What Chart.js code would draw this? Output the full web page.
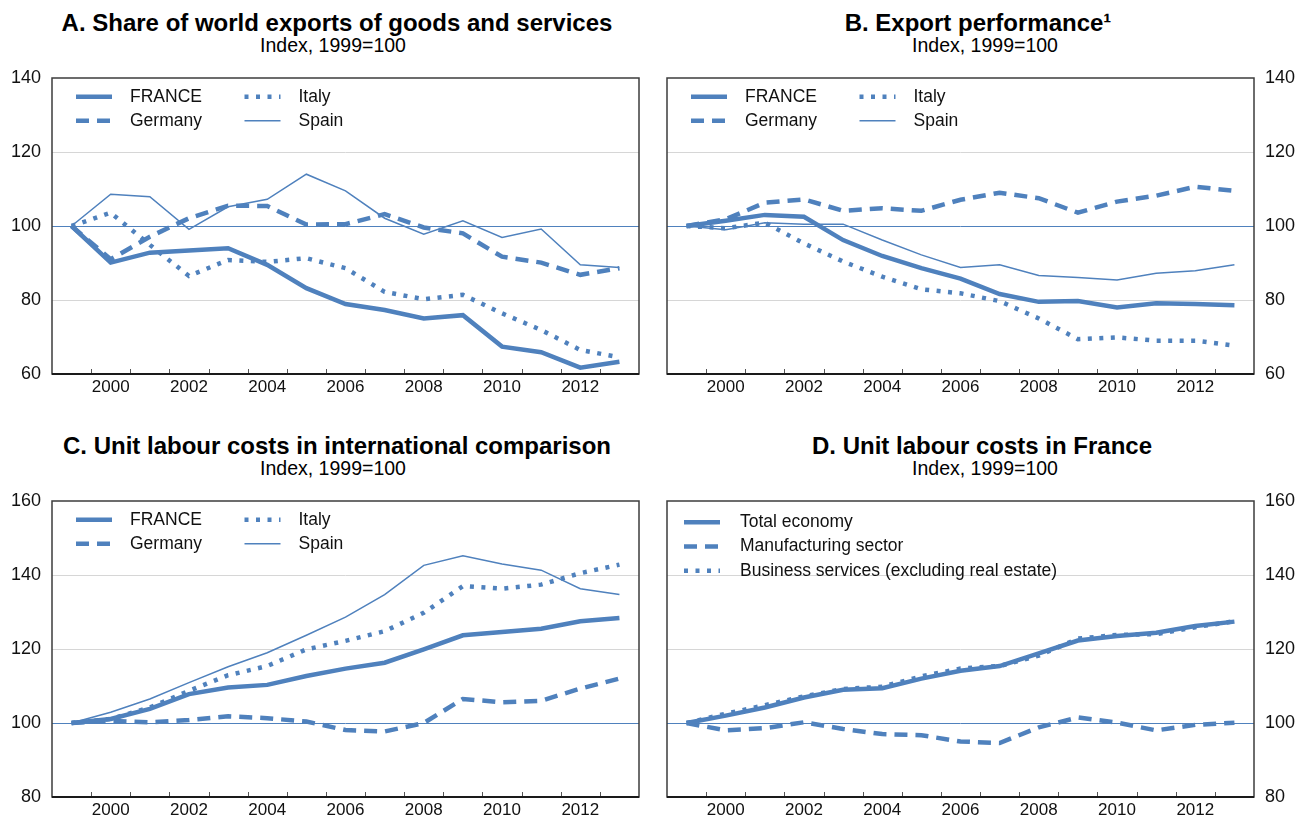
<!DOCTYPE html>
<html>
<head>
<meta charset="utf-8">
<title>France export and labour cost indicators</title>
<script src="https://cdn.jsdelivr.net/npm/chart.js@4.4.1/dist/chart.umd.min.js"></script>
<style>
    html, body { margin: 0; padding: 0; background: #fff; overflow: hidden; }
    #page { position: relative; width: 1309px; height: 818px; font-family: "Liberation Sans", Arial, sans-serif; color: #000; }
    .panel-title { position: absolute; width: 640px; text-align: center; font-weight: bold; font-size: 24px; line-height: 26px; white-space: nowrap; }
    .panel-sub { position: absolute; width: 640px; text-align: center; font-size: 19.5px; line-height: 22px; white-space: nowrap; }
    canvas { position: absolute; }
</style>
</head>
<body>
<div id="page">
    <div class="panel-title" style="left:17px; top:10px;">A. Share of world exports of goods and services</div>
    <div class="panel-sub" style="left:13px; top:34px;">Index, 1999=100</div>
    <div class="panel-title" style="left:658px; top:10px;">B. Export performance¹</div>
    <div class="panel-sub" style="left:665px; top:34px;">Index, 1999=100</div>
    <div class="panel-title" style="left:17px; top:433px;">C. Unit labour costs in international comparison</div>
    <div class="panel-sub" style="left:13px; top:457px;">Index, 1999=100</div>
    <div class="panel-title" style="left:662px; top:433px;">D. Unit labour costs in France</div>
    <div class="panel-sub" style="left:665px; top:457px;">Index, 1999=100</div>

    <canvas id="chart-a" width="655" height="335" style="left:0; top:60px;"></canvas>
    <canvas id="chart-b" width="654" height="335" style="left:655px; top:60px;"></canvas>
    <canvas id="chart-c" width="655" height="335" style="left:0; top:483px;"></canvas>
    <canvas id="chart-d" width="654" height="335" style="left:655px; top:483px;"></canvas>
</div>

<script>
// Index values, 1999 = 100

const YEARS = [1999, 2000, 2001, 2002, 2003, 2004, 2005, 2006, 2007, 2008, 2009, 2010, 2011, 2012, 2013];

// A. Share of world exports of goods and services
const shareFrance  = [100, 90.1, 92.8, 93.4, 94.0, 89.5, 83.2, 78.9, 77.3, 75.0, 75.9, 67.4, 65.9, 61.7, 63.3];
const shareGermany = [100, 91.0, 97.1, 102.1, 105.5, 105.4, 100.4, 100.5, 103.2, 99.6, 98.0, 91.7, 90.1, 86.8, 88.6];
const shareItaly   = [100, 103.6, 94.9, 86.5, 90.8, 90.3, 91.3, 88.6, 82.2, 80.2, 81.4, 76.4, 71.9, 66.5, 64.5];
const shareSpain   = [100, 108.6, 107.9, 99.1, 105.2, 107.2, 114.0, 109.5, 102.1, 97.8, 101.4, 96.9, 99.2, 89.5, 88.8];

// B. Export performance
const perfFrance  = [100, 101.4, 103.0, 102.5, 96.2, 91.9, 88.6, 85.8, 81.6, 79.5, 79.7, 78.0, 79.1, 78.9, 78.6];
const perfGermany = [100, 101.8, 106.3, 107.2, 104.1, 104.8, 104.1, 107.1, 109.0, 107.5, 103.6, 106.6, 108.2, 110.6, 109.5];
const perfItaly   = [100, 99.4, 100.9, 95.3, 90.4, 86.3, 82.9, 81.8, 79.7, 75.0, 69.4, 69.9, 69.0, 69.0, 67.7];
const perfSpain   = [100, 99.0, 100.9, 100.5, 100.5, 96.2, 92.2, 88.8, 89.5, 86.6, 86.1, 85.4, 87.2, 87.9, 89.5];

// C. Unit labour costs in international comparison
const ulcFrance  = [100, 101.1, 103.8, 107.8, 109.6, 110.3, 112.7, 114.7, 116.3, 119.9, 123.7, 124.6, 125.5, 127.5, 128.4];
const ulcGermany = [100, 100.6, 100.2, 100.8, 101.8, 101.3, 100.4, 98.1, 97.7, 100.0, 106.5, 105.6, 106.0, 109.3, 112.0];
const ulcItaly   = [100, 101.1, 104.2, 108.7, 112.9, 115.4, 119.9, 122.2, 124.8, 129.8, 137.0, 136.3, 137.4, 140.5, 142.8];
const ulcSpain   = [100, 102.9, 106.5, 110.9, 115.2, 119.0, 123.7, 128.6, 134.7, 142.6, 145.2, 143.0, 141.3, 136.3, 134.7];

// D. Unit labour costs in France
const ulcTotal         = [100, 102.0, 104.2, 106.9, 109.0, 109.4, 112.0, 114.1, 115.4, 118.8, 122.3, 123.5, 124.4, 126.2, 127.4];
const ulcManufacturing = [100, 98.0, 98.6, 100.2, 98.4, 97.0, 96.7, 95.0, 94.6, 98.8, 101.5, 100.1, 98.0, 99.5, 100.1];
const ulcBusiness      = [100, 102.5, 104.8, 107.2, 109.2, 109.8, 112.6, 114.7, 115.4, 118.2, 122.8, 123.8, 124.0, 125.9, 127.5];

const COUNTRY_LABELS = ['FRANCE', 'Germany', 'Italy', 'Spain'];
const SECTOR_LABELS = ['Total economy', 'Manufacturing sector', 'Business services (excluding real estate)'];

const BLUE = '#4f81bd';
const FONT = '"Liberation Sans", Arial, sans-serif';

const LINE_STYLES = {
    solid:  { width: 4.5, dash: [] },
    dashed: { width: 4.5, dash: [13, 8] },
    dotted: { width: 4.5, dash: [4, 7.5] },
    thin:   { width: 1.5, dash: [] },
};

Chart.defaults.font.family = FONT;
Chart.defaults.color = '#111';

// box round the plot area, with short inward ticks between the years
const panelFrame = {
    id: 'panelFrame',
    afterDatasetsDraw(chart) {
        const { ctx, chartArea: a, scales: { x } } = chart;
        ctx.save();
        ctx.strokeStyle = '#555';
        ctx.lineWidth = 1;
        ctx.beginPath();
        for (let i = 1; i < YEARS.length; i++) {
            const px = Math.round((x.getPixelForValue(i - 1) + x.getPixelForValue(i)) / 2) + 0.5;
            ctx.moveTo(px, a.bottom);
            ctx.lineTo(px, a.bottom - 5);
        }
        ctx.stroke();
        ctx.strokeStyle = '#3c3c3c';
        ctx.lineWidth = 1.5;
        ctx.strokeRect(a.left, a.top, a.right - a.left, a.bottom - a.top);
        ctx.strokeStyle = '#1a1a1a';
        ctx.lineWidth = 2;
        ctx.beginPath();
        ctx.moveTo(a.left, a.bottom);
        ctx.lineTo(a.right, a.bottom);
        ctx.stroke();
        ctx.restore();
    },
};

// legend drawn inside the plot, filled column by column
const inlineLegend = {
    id: 'inlineLegend',
    afterDatasetsDraw(chart, args, opts) {
        const { ctx, chartArea } = chart;
        ctx.save();
        ctx.font = `17.5px ${FONT}`;
        ctx.textBaseline = 'middle';
        ctx.textAlign = 'left';
        chart.data.datasets.forEach((ds, i) => {
            const col = Math.floor(i / opts.rows);
            const row = i % opts.rows;
            const x0 = chartArea.left + opts.x + col * opts.colGap;
            const y = chartArea.top + opts.y + row * opts.rowGap;
            ctx.strokeStyle = ds.borderColor;
            ctx.lineWidth = ds.borderWidth;
            ctx.setLineDash(ds.borderDash);
            ctx.beginPath();
            ctx.moveTo(x0, y);
            ctx.lineTo(x0 + 36, y);
            ctx.stroke();
            ctx.setLineDash([]);
            ctx.fillStyle = '#111';
            ctx.fillText(ds.label, x0 + opts.textGap, y);
        });
        ctx.restore();
    },
};

function makeDataset(label, data, style) {
    const s = LINE_STYLES[style];
    return {
        label: label,
        data: data,
        borderColor: BLUE,
        borderWidth: s.width,
        borderDash: s.dash,
        borderCapStyle: 'butt',
        pointRadius: 0,
        pointHoverRadius: 0,
        pointBorderWidth: 0,
        tension: 0,
        fill: false,
    };
}

function renderPanel(id, { datasets, side, min, max, padding, legend }) {
    const lastTick = (max - min) / 20;
    return new Chart(document.getElementById(id), {
        type: 'line',
        data: { labels: YEARS.map(String), datasets: datasets },
        options: {
            responsive: false,
            animation: false,
            layout: { padding: padding, autoPadding: false },
            plugins: {
                legend: { display: false },
                tooltip: { enabled: false },
                inlineLegend: legend,
            },
            scales: {
                x: {
                    type: 'category',
                    offset: true,
                    grid: { display: false, drawTicks: false },
                    border: { display: false },
                    ticks: {
                        autoSkip: false,
                        maxRotation: 0,
                        padding: 3,
                        font: { size: 17 },
                        color: '#111',
                        callback: (val, i) => (YEARS[i] % 2 === 0 ? String(YEARS[i]) : ''),
                    },
                    afterFit: scale => {
                        scale.height = 21;
                        scale.paddingLeft = 0;
                        scale.paddingRight = 0;
                    },
                },
                y: {
                    position: side,
                    min: min,
                    max: max,
                    border: { display: false },
                    grid: {
                        drawTicks: false,
                        lineWidth: 1,
                        color: c => {
                            if (c.tick && c.tick.value === 100) return BLUE;
                            if (c.index === 0 || c.index === lastTick) return 'rgba(0,0,0,0)';
                            return '#d6d6d6';
                        },
                    },
                    ticks: {
                        stepSize: 20,
                        padding: 11,
                        font: { size: 18 },
                        color: '#111',
                    },
                    afterFit: scale => {
                        scale.width = side === 'left' ? 52 : 55;
                        scale.paddingTop = 0;
                        scale.paddingBottom = 0;
                    },
                },
            },
        },
        plugins: [panelFrame, inlineLegend],
    });
}

const countryLegend = { rows: 2, x: 24, y: 18.7, colGap: 168.5, rowGap: 24, textGap: 54 };
const sectorLegend = { rows: 3, x: 17, y: 21.3, colGap: 0, rowGap: 24.2, textGap: 56 };
const countryStyles = ['solid', 'dashed', 'dotted', 'thin'];

function countrySets(series) {
    return series.map((data, i) => makeDataset(COUNTRY_LABELS[i], data, countryStyles[i]));
}

renderPanel('chart-a', {
    datasets: countrySets([shareFrance, shareGermany, shareItaly, shareSpain]),
    side: 'left', min: 60, max: 140,
    padding: { top: 18, left: 0, right: 16, bottom: 0 },
    legend: countryLegend,
});

renderPanel('chart-b', {
    datasets: countrySets([perfFrance, perfGermany, perfItaly, perfSpain]),
    side: 'right', min: 60, max: 140,
    padding: { top: 18, left: 12, right: 0, bottom: 0 },
    legend: countryLegend,
});

renderPanel('chart-c', {
    datasets: countrySets([ulcFrance, ulcGermany, ulcItaly, ulcSpain]),
    side: 'left', min: 80, max: 160,
    padding: { top: 18, left: 0, right: 16, bottom: 0 },
    legend: countryLegend,
});

renderPanel('chart-d', {
    datasets: [
        makeDataset(SECTOR_LABELS[0], ulcTotal, 'solid'),
        makeDataset(SECTOR_LABELS[1], ulcManufacturing, 'dashed'),
        makeDataset(SECTOR_LABELS[2], ulcBusiness, 'dotted'),
    ],
    side: 'right', min: 80, max: 160,
    padding: { top: 18, left: 12, right: 0, bottom: 0 },
    legend: sectorLegend,
});
</script>
</body>
</html>
